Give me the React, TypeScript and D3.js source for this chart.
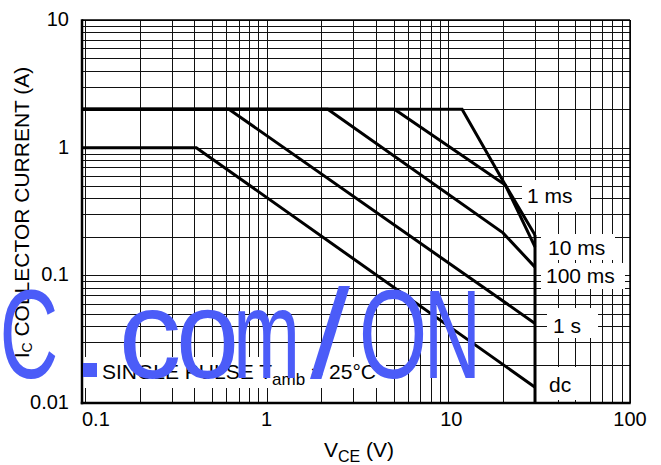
import React from "react";
import * as d3 from "d3";

// ---- data ----
const V_MIN = 0.0963;
const V_MAX = 100;
const I_MIN = 0.01;
const I_MAX = 10;

const xTickValues = [0.1, 1, 10, 100];
const xTickLabels = ["0.1", "1", "10", "100"];
const yTickValues = [0.01, 0.1, 1, 10];
const yTickLabels = ["0.01", "0.1", "1", "10"];

const dcV = [V_MIN, 0.41, 30];
const dcI = [1, 1, 0.0133];
const s1V = [V_MIN, 0.62, 30];
const s1I = [2, 2, 0.042];
const ms100V = [V_MIN, 2.17, 20, 30];
const ms100I = [2, 2, 0.215, 0.116];
const ms10V = [V_MIN, 5.05, 20.6, 30];
const ms10I = [2, 2, 0.51, 0.167];
const ms1V = [V_MIN, 11.9, 20.6, 30];
const ms1I = [2, 2, 0.51, 0.207];
const vceoV = [30, 30];
const vceoI = [0.01, 0.207];

const curveNames = ["dc", "1 s", "100 ms", "10 ms", "1 ms", "VCEO"];
const curveV = [dcV, s1V, ms100V, ms10V, ms1V, vceoV];
const curveI = [dcI, s1I, ms100I, ms10I, ms1I, vceoI];

const labelTexts = ["1 ms", "10 ms", "100 ms", "1 s", "dc"];

// ---- layout (styles/positions) ----
const W = 661;
const H = 465;
const L = 82;
const R = 630;
const T = 20;
const B = 403;
const FONT = "'Liberation Sans', Arial, Helvetica, sans-serif";
const BLUE = "#4b5cf8";

const labelLayout = [
  { box: [522, 180, 68, 32], tx: 527, ty: 203 },
  { box: [541, 234, 74, 26], tx: 548, ty: 255 },
  { box: [541, 263, 84, 26], tx: 546, ty: 283 },
  { box: [547, 308, 51, 30], tx: 553, ty: 333 },
  { box: [542, 367, 41, 33], tx: 549, ty: 392 },
];

const watermarkGlyphs = [
  { ch: "C", cx: 29, sx: 0.647 },
  { ch: "c", cx: 150, sx: 1.0 },
  { ch: "o", cx: 207.5, sx: 0.9 },
  { ch: "m", cx: 266.5, sx: 0.64 },
  { ch: "/", cx: 330, sx: 1.14 },
  { ch: "O", cx: 393, sx: 0.7 },
  { ch: "N", cx: 452.5, sx: 0.63 },
];

export default function App() {
  const x = d3.scaleLog().domain([V_MIN, V_MAX]).range([L, R]);
  const y = d3.scaleLog().domain([I_MIN, I_MAX]).range([B, T]);

  const vGrid: number[] = [];
  for (let e = -1; e <= 1; e++) {
    for (let k = 1; k <= 9; k++) {
      const v = k * Math.pow(10, e);
      if (v >= V_MIN && v <= V_MAX) vGrid.push(v);
    }
  }
  vGrid.push(100);
  const hGrid: number[] = [];
  for (let e = -2; e <= 0; e++) {
    for (let k = 1; k <= 9; k++) hGrid.push(k * Math.pow(10, e));
  }
  hGrid.push(10);

  const line = d3
    .line<[number, number]>()
    .x((d) => x(d[0]))
    .y((d) => y(d[1]));

  const snap = (p: number) => Math.round(p) + 0.5;

  return (
    <svg
      width={W}
      height={H}
      viewBox={`0 0 ${W} ${H}`}
      style={{ position: "absolute", left: 0, top: 0, background: "#fff" }}
      fontFamily={FONT}
    >
      <rect x={0} y={0} width={W} height={H} fill="#fff" />
      {/* grid */}
      <g stroke="#111" strokeWidth={1} shapeRendering="crispEdges">
        {vGrid.map((v, i) => (
          <line key={"v" + i} x1={snap(x(v))} x2={snap(x(v))} y1={T} y2={B} />
        ))}
        {hGrid.map((v, i) => (
          <line key={"h" + i} x1={L} x2={R} y1={snap(y(v))} y2={snap(y(v))} />
        ))}
      </g>
      {/* frame */}
      <line x1={L} x2={R} y1={T} y2={T} stroke="#000" strokeWidth={1.5} />
      <line x1={R} x2={R} y1={T} y2={B} stroke="#000" strokeWidth={1.5} />
      <line x1={L} x2={L} y1={T - 0.75} y2={B + 1.25} stroke="#000" strokeWidth={2.5} />
      <line x1={L - 1.25} x2={R + 0.75} y1={B} y2={B} stroke="#000" strokeWidth={2.5} />

      {/* label boxes */}
      {labelLayout.map((l, i) => (
        <rect key={"b" + i} x={l.box[0]} y={l.box[1]} width={l.box[2]} height={l.box[3]} fill="#fff" />
      ))}
      {/* single pulse box */}
      <rect x={84} y={357} width={302} height={31} fill="#fff" />

      {/* curves */}
      {curveNames.map((name, i) => {
        const pts = curveV[i].map((v, j) => [v, curveI[i][j]] as [number, number]);
        return (
          <path
            key={name}
            d={line(pts) || ""}
            fill="none"
            stroke="#000"
            strokeWidth={3}
            strokeLinejoin="miter"
          />
        );
      })}

      {/* curve labels */}
      {labelTexts.map((t, i) => (
        <text key={"t" + i} x={labelLayout[i].tx} y={labelLayout[i].ty} fontSize={21} fill="#000">
          {t}
        </text>
      ))}

      {/* tick labels */}
      {xTickValues.map((v, i) => (
        <text
          key={"xt" + i}
          x={i === 0 ? L : x(v) + (i === 2 ? 3 : 0)}
          y={426}
          fontSize={20}
          textAnchor={i === 0 ? "start" : "middle"}
          fill="#000"
        >
          {xTickLabels[i]}
        </text>
      ))}
      {yTickValues.map((v, i) => (
        <text key={"yt" + i} x={69} y={y(v) + 6} fontSize={20} textAnchor="end" fill="#000">
          {yTickLabels[i]}
        </text>
      ))}

      {/* axis titles */}
      <text x={324} y={457} fontSize={21} fill="#000">
        V<tspan fontSize={16} dy={5}>CE</tspan>
        <tspan dy={-5}> (V)</tspan>
      </text>
      <text transform="translate(29,212.5) rotate(-90)" textAnchor="middle" fontSize={21} fill="#000">
        I<tspan fontSize={14} dy={3}>C</tspan>
        <tspan dy={-3}> COLLECTOR CURRENT (A)</tspan>
      </text>

      {/* single pulse note */}
      <rect x={83} y={363} width={14} height={14} fill={BLUE} />
      <text x={102} y={379} fontSize={21} fill="#000">
        SINGLE PULSE T<tspan fontSize={17} dy={6}>amb</tspan>
        <tspan dy={-6}> = 25°C</tspan>
      </text>

      {/* watermark */}
      {watermarkGlyphs.map((g, i) => (
        <text
          key={"w" + i}
          transform={`translate(${g.cx},378) scale(${g.sx},1)`}
          textAnchor="middle"
          fontSize={126}
          fill={BLUE}
        >
          {g.ch}
        </text>
      ))}
    </svg>
  );
}
